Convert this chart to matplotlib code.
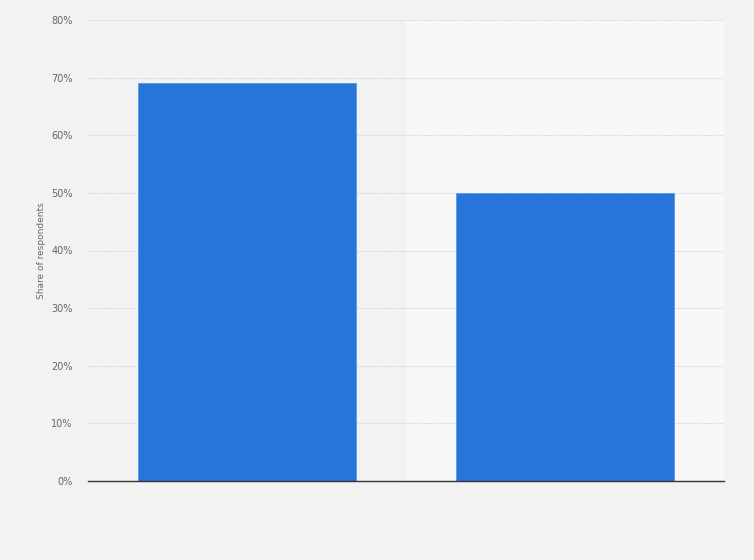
import matplotlib.pyplot as plt
from matplotlib.ticker import PercentFormatter

# Chart data (no category labels shown in the reference)
categories = ["Group A", "Group B"]
shares = [69, 50]
y_ticks = [0, 10, 20, 30, 40, 50, 60, 70, 80]

fig = plt.figure(figsize=(7.54, 5.6), dpi=100, facecolor="#f2f2f2")
ax = fig.add_axes([88 / 754, 1 - 481 / 560, 636 / 754, 461 / 560])
ax.set_facecolor("#f2f2f2")

x = range(len(categories))
ax.axvspan(0.5, 1.5, color="#f8f8f8", zorder=0)
ax.bar(x, shares, width=0.686, color="#2775db", edgecolor="#5b97e8", linewidth=0.6, zorder=3)

ax.set_xlim(-0.5, 1.5)
ax.set_ylim(0, 80)
ax.set_yticks(y_ticks)
ax.yaxis.set_major_formatter(PercentFormatter(decimals=0))
ax.set_xticks([])

ax.grid(axis="y", color="#d4d4d4", linestyle=(0, (1, 1)), linewidth=0.8, zorder=1)
for side in ["top", "right", "left"]:
    ax.spines[side].set_visible(False)
ax.spines["bottom"].set_color("#333333")
ax.spines["bottom"].set_linewidth(1.0)
ax.spines["bottom"].set_zorder(4)

ax.tick_params(axis="y", length=0, labelsize=7, labelcolor="#666666", pad=11)
ax.set_ylabel("Share of respondents", fontsize=6.5, color="#666666", labelpad=4)

fig.savefig("out.png", dpi=100, facecolor=fig.get_facecolor())
